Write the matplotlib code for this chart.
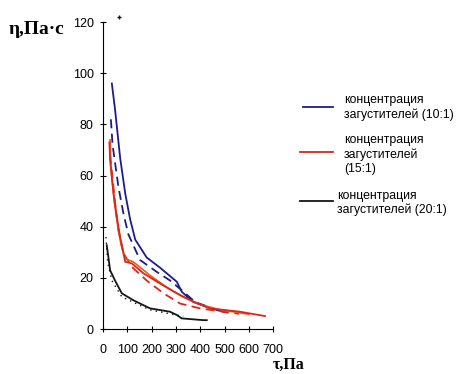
import matplotlib
matplotlib.use("Agg")
import matplotlib.pyplot as plt
from matplotlib.lines import Line2D

# ---- data ----
blue_x = [37, 50, 71, 92, 112, 133, 180, 235, 304, 324, 370, 430, 494, 510]
blue_y = [96, 86, 67, 53, 43, 35, 28, 24, 18.5, 14.6, 10.7, 8.6, 6.8, 6.5]

blue_d_x = [33, 40, 64, 85, 105, 153, 221, 276, 324, 380, 480]
blue_d_y = [82, 72, 55.6, 45, 37, 27, 22.4, 19, 15.2, 10.5, 7.2]

red_x = [27, 30, 44, 57, 71, 92, 119, 167, 235, 304, 372, 440, 563, 666]
red_y = [73, 66, 53, 44, 36, 26.3, 25.7, 21.8, 17.8, 14, 10.7, 8.1, 6.8, 5.1]

orange_x = [30, 33, 47, 60, 75, 92, 125, 194, 260, 330, 400, 480, 600]
orange_y = [74, 63, 50, 41, 33, 27.5, 26.3, 21, 16.5, 12.5, 9.6, 7.6, 5.8]

red_d_x = [30, 51, 64, 85, 119, 180, 249, 317, 399, 480, 560]
red_d_y = [68, 49, 38.7, 29.6, 24.3, 19, 14, 10, 8.1, 7, 6]

black_x = [16, 23, 30, 50, 78, 125, 194, 276, 304, 324, 413, 427]
black_y = [32.8, 28, 23, 19, 14, 11.3, 8.1, 6.8, 5.5, 4.2, 3.5, 3.5]

black_d_x = [13, 20, 37, 78, 125, 194, 276, 330]
black_d_y = [36, 26, 19, 12.6, 10.5, 7.5, 6, 5]

stray_x = [67]
stray_y = [122]

legend_labels = ["концентрация\nзагустителей (10:1)",
                 "концентрация\nзагустителей\n(15:1)",
                 "концентрация\nзагустителей (20:1)"]

BLUE = "#1c1c8a"
RED = "#d8281a"
ORANGE = "#ee5a1e"
BLACK = "#151515"

W, H = 457, 374
fig = plt.figure(figsize=(W / 100, H / 100), dpi=100)
ax = fig.add_axes([0.225, 0.12, 0.373, 0.821])

ax.plot(blue_x, blue_y, color=BLUE, lw=1.3)
ax.plot(blue_d_x, blue_d_y, color=BLUE, lw=1.3, ls=(0, (5, 3)))
ax.plot(red_d_x, red_d_y, color=RED, lw=1.3, ls=(0, (5, 3)))
ax.plot(orange_x, orange_y, color=ORANGE, lw=1.2)
ax.plot(red_x, red_y, color=RED, lw=1.3)
ax.plot(black_d_x, black_d_y, color=BLACK, lw=1.0, ls=(0, (1, 3)))
ax.plot(black_x, black_y, color=BLACK, lw=1.3)
ax.plot(stray_x, stray_y, "+", color=BLACK, ms=3, mew=1, clip_on=False)

ax.set_xlim(0, 700)
ax.set_ylim(0, 120)
ax.set_xticks(range(0, 701, 100))
ax.set_yticks(range(0, 121, 20))
for s in ["top", "right"]:
    ax.spines[s].set_visible(False)
ax.tick_params(direction="inout", length=5, width=0.8, labelsize=9, pad=4)
ax.tick_params(axis="x", pad=8)
for lab in ax.get_xticklabels() + ax.get_yticklabels():
    lab.set_family("Liberation Sans")

fig.text(9 / W, 1 - 30 / H, "η,Па·с", family="Liberation Serif", weight="bold",
         fontsize=14, va="center")
fig.text(273 / W, 1 - 369 / H, "τ,Па", family="Liberation Serif", weight="bold",
         fontsize=11.5, va="baseline")

# legend drawn by hand (pixel positions)
leg = [  # (colour, line y, line x0, text x, first text line centre y)
    (BLUE, 107, 303, 344, 101.5),
    (RED, 152, 300, 344, 141.5),
    (BLACK, 201, 300, 337, 196.5),
]
for (c, ly, lx0, tx, ty), lab in zip(leg, legend_labels):
    fig.add_artist(Line2D([lx0 / W, 333 / W], [1 - ly / H, 1 - ly / H],
                          color=c, lw=1.3, transform=fig.transFigure))
    fig.text(tx / W, 1 - (ty - 7) / H, lab, family="Liberation Sans", fontsize=8.8,
             va="top", linespacing=1.2)

fig.savefig("out.png", dpi=100)
